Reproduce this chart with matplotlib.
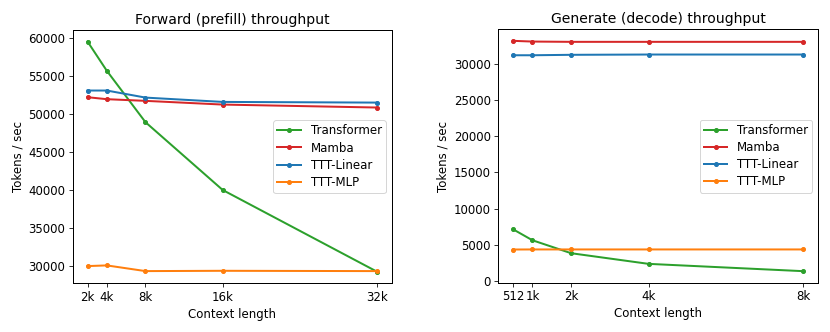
import matplotlib
matplotlib.use("Agg")
import matplotlib.pyplot as plt

models = ['Transformer', 'Mamba', 'TTT-Linear', 'TTT-MLP']
colors = ['tab:green', 'tab:red', 'tab:blue', 'tab:orange']

# forward (prefill)
fwd_ctx = [2048, 4096, 8192, 16384, 32768]
fwd_labels = ['2k', '4k', '8k', '16k', '32k']
fwd_transformer = [59600, 55740, 48970, 40030, 29250]
fwd_mamba = [52260, 52000, 51780, 51290, 50900]
fwd_ttt_linear = [53140, 53140, 52210, 51640, 51550]
fwd_ttt_mlp = [30000, 30090, 29340, 29380, 29340]

# generate (decode)
gen_ctx = [512, 1024, 2048, 4096, 8192]
gen_labels = ['512', '1k', '2k', '4k', '8k']
gen_transformer = [7165, 5650, 3860, 2390, 1380]
gen_mamba = [33170, 33070, 33030, 33030, 33030]
gen_ttt_linear = [31180, 31180, 31240, 31280, 31280]
gen_ttt_mlp = [4370, 4380, 4380, 4380, 4380]

plt.rcParams['font.size'] = 11.8
plt.rcParams['axes.titlesize'] = 14
plt.rcParams['xtick.major.size'] = 4.2
plt.rcParams['ytick.major.size'] = 4.2
plt.rcParams['axes.linewidth'] = 1.0

fig = plt.figure(figsize=(830/72, 332/72), dpi=72)
ax1 = fig.add_axes([0.088, 0.1467, 0.3839, 0.7629])
ax2 = fig.add_axes([0.6006, 0.1485, 0.3849, 0.7632])

fwd = [fwd_transformer, fwd_mamba, fwd_ttt_linear, fwd_ttt_mlp]
gen = [gen_transformer, gen_mamba, gen_ttt_linear, gen_ttt_mlp]

for name, c, ys in zip(models, colors, fwd):
    ax1.plot(fwd_ctx, ys, marker='.', ms=8, lw=2, color=c, label=name)
for name, c, ys in zip(models, colors, gen):
    ax2.plot(gen_ctx, ys, marker='.', ms=8, lw=2, color=c, label=name)

ax1.set_xticks(fwd_ctx)
ax1.set_xticklabels(fwd_labels)
ax1.set_title('Forward (prefill) throughput')
ax1.set_xlabel('Context length')
ax1.set_ylabel('Tokens / sec')
ax1.legend(loc='center right', labelspacing=0.36, borderpad=0.35)

ax2.set_xticks(gen_ctx)
ax2.set_xticklabels(gen_labels)
ax2.set_title('Generate (decode) throughput')
ax2.set_xlabel('Context length')
ax2.set_ylabel('Tokens / sec')
ax2.legend(loc='center right', labelspacing=0.36, borderpad=0.35)

fig.savefig('out.png', dpi=72)
